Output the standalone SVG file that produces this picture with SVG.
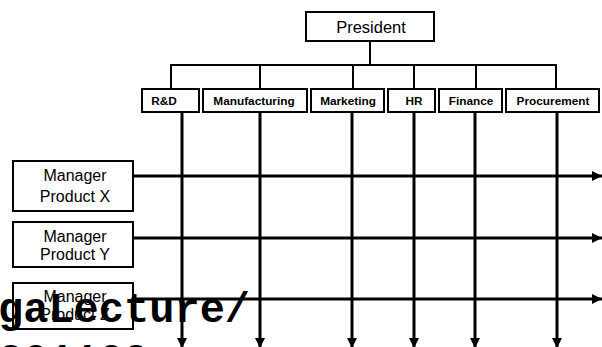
<svg xmlns="http://www.w3.org/2000/svg" width="602" height="347" viewBox="0 0 602 347">
  <style>
    .box { fill: #ffffff; stroke: #000000; stroke-width: 2; }
    .tree { fill: none; stroke: #000000; stroke-width: 2; }
    .flow { fill: none; stroke: #000000; stroke-width: 3; marker-end: url(#arrow); }
    .head { font-family: "Liberation Sans", Arial, sans-serif; font-size: 16.5px; fill: #000; text-anchor: middle; }
    .dept { font-family: "Liberation Sans", Arial, sans-serif; font-size: 11.8px; font-weight: bold; fill: #000; text-anchor: middle; }
    .mgr { font-family: "Liberation Sans", Arial, sans-serif; font-size: 16px; fill: #000; text-anchor: middle; }
    .mark { font-family: "Liberation Mono", "Courier New", monospace; font-size: 42px; font-weight: bold; fill: #000; }
  </style>
  <defs>
    <marker id="arrow" markerUnits="userSpaceOnUse" markerWidth="10" markerHeight="10" refX="10" refY="5" orient="auto">
      <path d="M0,0 L10,5 L0,10 z" fill="#000"/>
    </marker>
  </defs>

  <rect width="602" height="347" fill="#ffffff"/>

  <!-- reporting tree and matrix flows -->
  <g id="connectors">
    <path class="tree" d="M370,41 V65 M171,89 V65 H556 V89 M260,65 V89 M353,65 V89 M414,65 V89 M476,65 V89"/>
    <line class="flow" x1="182" y1="113" x2="182" y2="348"/>
    <line class="flow" x1="260" y1="113" x2="260" y2="348"/>
    <line class="flow" x1="352" y1="113" x2="352" y2="348"/>
    <line class="flow" x1="414" y1="113" x2="414" y2="348"/>
    <line class="flow" x1="475" y1="113" x2="475" y2="348"/>
    <line class="flow" x1="557" y1="113" x2="557" y2="348"/>
    <line class="flow" x1="133" y1="176" x2="602" y2="176"/>
    <line class="flow" x1="133" y1="238" x2="602" y2="238"/>
    <line class="flow" x1="133" y1="299" x2="602" y2="299"/>
  </g>

  <g id="president">
    <rect class="box" x="306" y="12" width="128" height="29"/>
    <text class="head" x="371" y="33">President</text>
  </g>

  <g id="dept-rd">
    <rect class="box" x="142" y="89" width="57" height="23"/>
    <text class="dept" x="164" y="105">R&amp;D</text>
  </g>
  <g id="dept-manufacturing">
    <rect class="box" x="203" y="89" width="104" height="23"/>
    <text class="dept" x="254" y="105">Manufacturing</text>
  </g>
  <g id="dept-marketing">
    <rect class="box" x="311" y="89" width="73" height="23"/>
    <text class="dept" x="348" y="105">Marketing</text>
  </g>
  <g id="dept-hr">
    <rect class="box" x="388" y="89" width="47" height="23"/>
    <text class="dept" x="414" y="105">HR</text>
  </g>
  <g id="dept-finance">
    <rect class="box" x="439" y="89" width="63" height="23"/>
    <text class="dept" x="471" y="105">Finance</text>
  </g>
  <g id="dept-procurement">
    <rect class="box" x="506" y="89" width="93" height="23"/>
    <text class="dept" x="553" y="105">Procurement</text>
  </g>

  <g id="manager-x">
    <rect class="box" x="13" y="161" width="120" height="50"/>
    <text class="mgr" x="75" y="181">Manager</text>
    <text class="mgr" x="75" y="202">Product X</text>
  </g>
  <g id="manager-y">
    <rect class="box" x="13" y="222" width="120" height="45"/>
    <text class="mgr" x="75" y="242" font-size="15">Manager</text>
    <text class="mgr" x="75" y="260" font-size="15">Product Y</text>
  </g>
  <g id="manager-z">
    <rect class="box" x="13" y="283" width="120" height="46"/>
    <text class="mgr" x="75" y="302" font-size="15">Manager</text>
    <text class="mgr" x="75" y="320" font-size="15">Product Z</text>
  </g>

  <!-- overprinted path text -->
  <g id="watermark">
    <text class="mark" x="-2" y="322">gaLecture/</text>
    <text class="mark" x="-2" y="373">201109</text>
  </g>
</svg>
